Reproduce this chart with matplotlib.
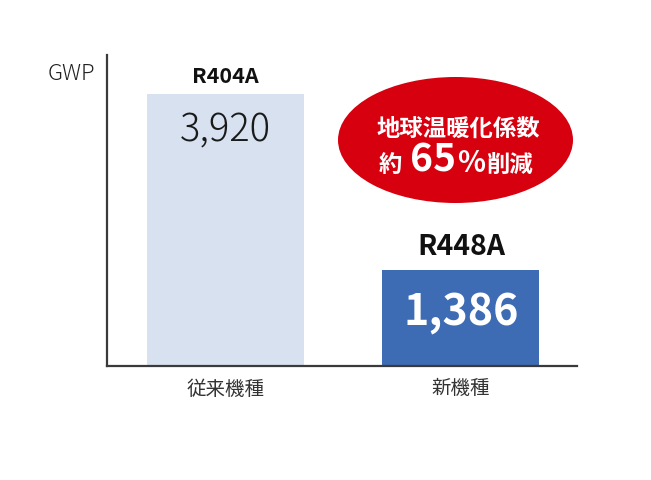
import matplotlib
matplotlib.use("Agg")
import matplotlib.pyplot as plt
from matplotlib.patches import Ellipse

plt.rcParams['font.family'] = ['Noto Sans CJK JP', 'DejaVu Sans']

categories = ["従来機種", "新機種"]
refrigerants = ["R404A", "R448A"]
gwp_values = [3920, 1386]
value_labels = ["3,920", "1,386"]
bar_colors = ["#d7e1ef", "#3e6cb4"]
value_colors = ["#1a1a1a", "#ffffff"]
value_weights = ["light", "bold"]
value_sizes = [27.5, 31]
name_sizes = [15.5, 20.5]
callout_line1 = "地球温暖化係数"
callout_parts = ["約", "65", "%", "削減"]
axis_label = "GWP"

W, H = 651, 480
fig = plt.figure(figsize=(W / 100, H / 100), dpi=100)
ax = fig.add_axes([107 / W, 1 - 366 / H, 470 / W, 311 / H])

x = list(range(len(categories)))
ax.bar(x, gwp_values, width=0.667, color=bar_colors, zorder=2)
ax.set_xlim(-0.503, 1.493)
ax.set_ylim(0, 4482)

for s in ["top", "right"]:
    ax.spines[s].set_visible(False)
for s in ["left", "bottom"]:
    ax.spines[s].set_color("#3a3a3a")
    ax.spines[s].set_linewidth(1.6)
ax.set_yticks([])
ax.set_xticks(x, categories)
ax.tick_params(axis="x", length=0, pad=9, labelsize=14, labelcolor="#333333")

name_offsets = [7.9, 10.8]
value_offsets = [-33.8, -39.6]
for i, v in enumerate(gwp_values):
    ax.annotate(refrigerants[i], xy=(x[i], v), xytext=(0, name_offsets[i]),
                textcoords="offset points", ha="center", va="baseline",
                fontsize=name_sizes[i], fontweight="bold", color="#111111")
    ax.annotate(value_labels[i], xy=(x[i], v), xytext=(0, value_offsets[i]),
                textcoords="offset points", ha="center", va="baseline",
                fontsize=value_sizes[i], fontweight=value_weights[i],
                color=value_colors[i])

fig.text(95 / W, 1 - 80 / H, axis_label, ha="right", va="baseline",
         fontsize=16, fontweight="light", color="#222222")

ell = Ellipse((455.5 / W, 1 - 140 / H), 235 / W, 126 / H,
              transform=fig.transFigure, facecolor="#d7000f",
              edgecolor="none", zorder=5)
fig.patches.append(ell)

fig.text(458 / W, 1 - 136 / H, callout_line1, ha="center", va="baseline",
         fontsize=16.8, fontweight="bold", color="white", zorder=6)

part_sizes = [16.8, 28, 21, 16.8]
gaps = [0, 8, 1, 1]
renderer = fig.canvas.get_renderer()
cur = 379
for txt, fs, g in zip(callout_parts, part_sizes, gaps):
    t = fig.text((cur + g) / W, 1 - 172 / H, txt, ha="left", va="baseline",
                 fontsize=fs, fontweight="bold", color="white", zorder=6)
    bb = t.get_window_extent(renderer=renderer)
    cur = bb.x1

fig.savefig("out.png", dpi=100, facecolor="white")
